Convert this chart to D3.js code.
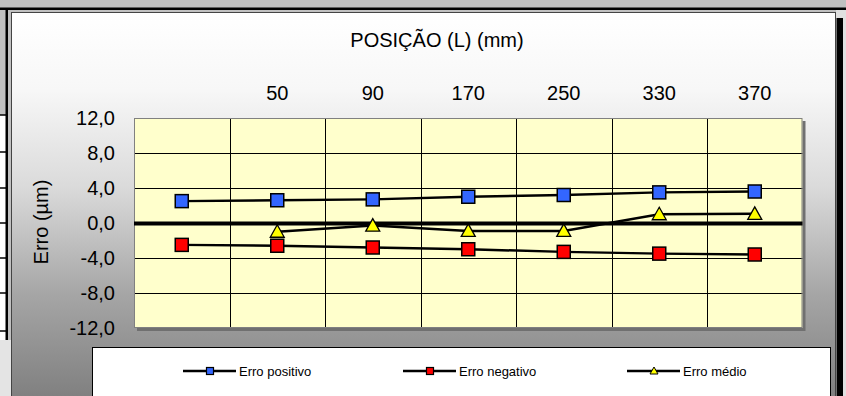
<!DOCTYPE html>
<html><head><meta charset="utf-8">
<script src="https://cdn.jsdelivr.net/npm/d3@7"></script>
<style>html,body{margin:0;padding:0;background:#c0c0c0;}svg{display:block;font-family:"Liberation Sans",Arial,sans-serif;}</style>
</head><body>
<svg id="c" width="846" height="396"></svg>
<script>
const categories = ["", "50", "90", "170", "250", "330", "370"];
const erroPositivo = [2.5, 2.6, 2.7, 3.0, 3.2, 3.5, 3.6];
const erroNegativo = [-2.5, -2.6, -2.8, -3.0, -3.3, -3.5, -3.6];
const erroMedio = [null, -1.0, -0.3, -0.9, -0.9, 1.0, 1.05];
const yTicks = [12, 8, 4, 0, -4, -8, -12];
const legendLabels = ["Erro positivo", "Erro negativo", "Erro médio"];

const svg = d3.select("#c");
const W = 846, H = 396;
const loc = d3.formatLocale({decimal: ",", thousands: ".", grouping: [3], currency: ["", ""], minus: "-"});
const fmt = loc.format(".1f");

// gradient
const defs = svg.append("defs");
const g1 = defs.append("linearGradient").attr("id","bg").attr("x1",0).attr("y1",0).attr("x2",0).attr("y2",1);
[[0,"#ffffff"],[0.2,"#f7f7f7"],[0.45,"#dadada"],[0.72,"#a6a6a6"],[1,"#7e7e7e"]].forEach(s=>g1.append("stop").attr("offset",s[0]).attr("stop-color",s[1]));

// outer frame
svg.append("rect").attr("x",0).attr("y",0).attr("width",W).attr("height",H).attr("fill","#c0c0c0");
svg.append("rect").attr("x",0).attr("y",7.5).attr("width",W).attr("height",2.5).attr("fill","#000");
svg.append("rect").attr("x",0).attr("y",115).attr("width",6).attr("height",225).attr("fill","#fff");
svg.append("rect").attr("x",0).attr("y",340).attr("width",11).attr("height",56).attr("fill","#e4e4e4");
[115,152,188,223,258,293,331].forEach(yy=>svg.append("rect").attr("x",0).attr("y",yy-0.75).attr("width",6).attr("height",1.5).attr("fill","#000"));
svg.append("rect").attr("x",5.5).attr("y",10).attr("width",2.5).attr("height",330).attr("fill","#000");
svg.append("rect").attr("x",836).attr("y",10).attr("width",10).attr("height",386).attr("fill","#e0e0e0");
svg.append("rect").attr("x",836.5).attr("y",18).attr("width",6.5).attr("height",378).attr("fill","#000");

// chart area
svg.append("rect").attr("x",11.5).attr("y",12.5).attr("width",824).attr("height",390).attr("fill","url(#bg)").attr("stroke","#444").attr("stroke-width",1);

const pLeft = 134, pRight = 802.5, pTop = 118, pBottom = 328;
const x = d3.scaleBand().domain(categories).range([pLeft, pRight]).padding(0);
const y = d3.scaleLinear().domain([-12, 12]).range([pBottom, pTop]);

// plot shadow + bg
svg.append("rect").attr("x",pLeft+3).attr("y",pTop+3).attr("width",pRight-pLeft).attr("height",pBottom-pTop).attr("fill","#707070");
svg.append("rect").attr("x",pLeft).attr("y",pTop).attr("width",pRight-pLeft).attr("height",pBottom-pTop).attr("fill","#ffffcc");

// grid
const grid = svg.append("g").attr("stroke","#000").attr("stroke-width",1);
yTicks.filter(v=>v!==12 && v!==-12 && v!==0).forEach(v=>grid.append("line").attr("x1",pLeft).attr("x2",pRight).attr("y1",Math.round(y(v))+0.5).attr("y2",Math.round(y(v))+0.5));
categories.slice(1).forEach(c=>grid.append("line").attr("x1",Math.round(x(c))+0.5).attr("x2",Math.round(x(c))+0.5).attr("y1",pTop).attr("y2",pBottom));
svg.append("rect").attr("x",pLeft+0.5).attr("y",pTop+0.5).attr("width",pRight-pLeft-1).attr("height",pBottom-pTop-1).attr("fill","none").attr("stroke","#808080").attr("stroke-width",1);
svg.append("line").attr("x1",pLeft).attr("x2",pRight).attr("y1",y(0)+0.5).attr("y2",y(0)+0.5).attr("stroke","#000").attr("stroke-width",4);

// axes
const ya = svg.append("g").attr("transform",`translate(${pLeft},0)`).call(d3.axisLeft(y).tickValues(yTicks).tickFormat(fmt).tickSize(0).tickPadding(19));
ya.select(".domain").remove();
ya.selectAll("text").attr("font-size",20).attr("fill","#000").attr("font-family","Liberation Sans, Arial, sans-serif");
const xa = svg.append("g").attr("transform",`translate(0,${pTop})`).call(d3.axisTop(x).tickSize(0).tickPadding(18));
xa.select(".domain").remove();
xa.selectAll("text").attr("font-size",20).attr("fill","#000").attr("font-family","Liberation Sans, Arial, sans-serif");

svg.append("text").attr("x",437).attr("y",47).attr("text-anchor","middle").attr("font-size",20).text("POSIÇÃO (L) (mm)");
svg.append("text").attr("transform","translate(48,222) rotate(-90)").attr("text-anchor","middle").attr("font-size",20).text("Erro (\u00b5m)");

// series
const cx = c => x(c) + x.bandwidth()/2;
const series = [
  {vals: erroPositivo, fill: "#3366ff", shape: "sq"},
  {vals: erroNegativo, fill: "#ff0000", shape: "sq"},
  {vals: erroMedio, fill: "#ffff00", shape: "tri"}
];
const line = d3.line().defined(d=>d.v!==null).x(d=>cx(d.c)).y(d=>y(d.v));
series.forEach(s=>{
  const data = categories.map((c,i)=>({c, v:s.vals[i]}));
  svg.append("path").datum(data).attr("d",line).attr("fill","none").attr("stroke","#000").attr("stroke-width",2.5);
});
series.forEach(s=>{
  const data = categories.map((c,i)=>({c, v:s.vals[i]})).filter(d=>d.v!==null);
  const g = svg.append("g");
  if (s.shape==="sq") {
    g.selectAll("rect").data(data).join("rect").attr("x",d=>cx(d.c)-6.5).attr("y",d=>y(d.v)-6.5).attr("width",13).attr("height",13)
      .attr("fill",s.fill).attr("stroke","#000").attr("stroke-width",1.5);
  } else {
    g.selectAll("path").data(data).join("path").attr("d",d=>{const X=cx(d.c),Y=y(d.v);return `M${X},${Y-7}L${X+7},${Y+5.5}L${X-7},${Y+5.5}Z`;})
      .attr("fill",s.fill).attr("stroke","#000").attr("stroke-width",1.3);
  }
});

// legend
svg.append("rect").attr("x",92.5).attr("y",347.5).attr("width",738).attr("height",60).attr("fill","#fff").attr("stroke","#000").attr("stroke-width",1);
const legX = [183, 403, 627];
series.forEach((s,i)=>{
  const lx = legX[i], ly = 371;
  svg.append("line").attr("x1",lx).attr("x2",lx+53).attr("y1",ly).attr("y2",ly).attr("stroke","#000").attr("stroke-width",2.5);
  const mx = lx+27;
  if (s.shape==="sq") svg.append("rect").attr("x",mx-3.5).attr("y",ly-3.5).attr("width",7).attr("height",7).attr("fill",s.fill).attr("stroke","#000").attr("stroke-width",1.2);
  else svg.append("path").attr("d",`M${mx},${ly-4}L${mx+4},${ly+3}L${mx-4},${ly+3}Z`).attr("fill",s.fill).attr("stroke","#000").attr("stroke-width",1);
  svg.append("text").attr("x",lx+56).attr("y",ly+5).attr("font-size",13).text(legendLabels[i]);
});
</script>
</body></html>
